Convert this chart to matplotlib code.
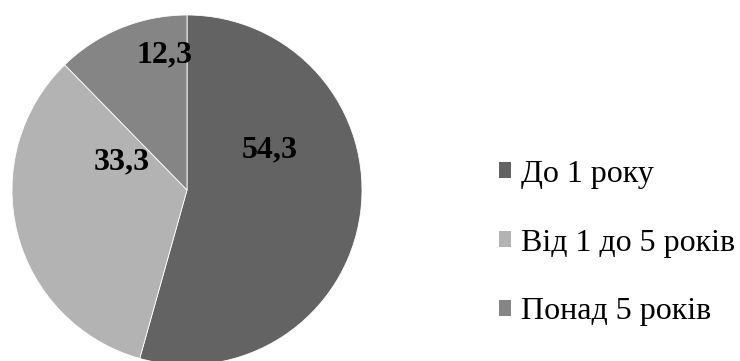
import matplotlib
matplotlib.use("Agg")
import matplotlib.pyplot as plt
from matplotlib.patches import Patch
from matplotlib import font_manager
from matplotlib.font_manager import FontProperties

categories = ["До 1 року", "Від 1 до 5 років", "Понад 5 років"]
values = [54.3, 33.3, 12.3]
value_labels = ["54,3", "33,3", "12,3"]
colors = ["#636363", "#b3b3b3", "#858585"]
# label anchor points inside each wedge (axes data units, radius = 1)
label_pos = [(0.474, 0.229), (-0.371, 0.16), (-0.126, 0.771)]

regular = font_manager.findfont(FontProperties(family="Liberation Serif"))
bold = font_manager.findfont(FontProperties(family="Liberation Serif", weight="bold"))
legend_font = FontProperties(fname=regular, size=23)
label_font = FontProperties(fname=bold, size=23)

W, H = 740, 361
fig = plt.figure(figsize=(W / 100, H / 100), dpi=100)
fig.patch.set_facecolor("white")

cx, cy, r = 187, 190, 175
ax = fig.add_axes([(cx - r) / W, (H - cy - r) / H, 2 * r / W, 2 * r / H])
ax.pie(values, colors=colors, startangle=90, counterclock=False, radius=1,
       wedgeprops=dict(edgecolor="white", linewidth=0.6))
ax.set_xlim(-1, 1)
ax.set_ylim(-1, 1)
ax.set_aspect("auto")
ax.axis("off")

for txt, (x, y) in zip(value_labels, label_pos):
    ax.text(x, y, txt, ha="center", va="center", fontproperties=label_font,
            color="black")

handles = [Patch(facecolor=c, edgecolor="none") for c in colors]
fig.legend(handles, categories, loc="center left",
           bbox_to_anchor=(499 / W, 1 - 243 / H), frameon=False,
           prop=legend_font, handlelength=0.38, handleheight=0.38,
           handletextpad=0.3, labelspacing=1.25, borderpad=0,
           borderaxespad=0)

fig.savefig("out.png", dpi=100, facecolor="white")
